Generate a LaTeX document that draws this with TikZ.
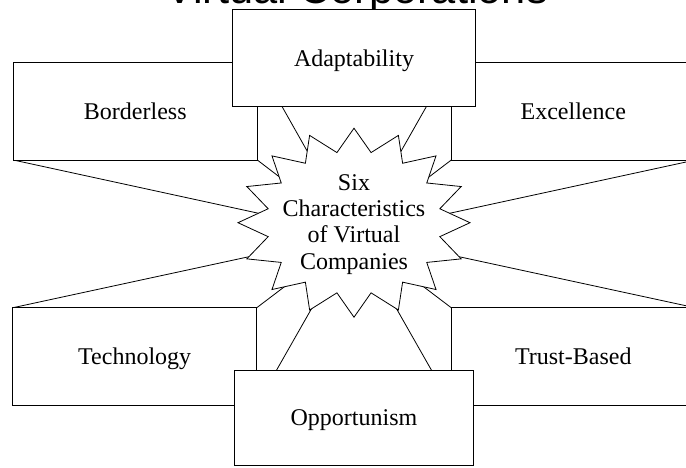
\documentclass[tikz,border=0pt]{standalone}
\usepackage{fontspec}
\setmainfont{Liberation Serif}
\newfontfamily\titlefont{Liberation Sans}
\usetikzlibrary{calc}
\pgfdeclarelayer{bg}
\pgfdeclarelayer{rays}
\pgfsetlayers{bg,rays,main}
\begin{document}
\begin{tikzpicture}[x=1pt,y=-1pt,
  box/.style={draw=black, line width=0.8pt, fill=white, inner sep=0pt, outer sep=0pt,
    minimum width=244pt, minimum height=97.3pt, text height=16pt, text depth=0pt,
    font=\fontsize{24}{26}\selectfont},
  ray/.style={draw=black, line width=0.8pt},
  starline/.style={draw=black, line width=0.8pt, fill=white, line join=miter}]
\clip (0,0) rectangle (686,467);
\begin{pgfonlayer}{bg}
  \fill[white] (0,0) rectangle (686,467);
\end{pgfonlayer}
% title (only its lower part is inside the picture)
\node[anchor=base, inner sep=0pt, font=\titlefont\fontsize{43.4}{48}\selectfont] (title) at (356.5,3) {Virtual Corporations};
% starburst
\coordinate (sc) at (354,222.7);
\coordinate (P) at (354,234);
\draw[starline] ($(sc)+(90:116 and 94.5)$)
  \foreach \k in {0,...,15}{ -- ($(sc)+(\k*22.5+101.25:87.5 and 71.5)$) -- ($(sc)+(\k*22.5+112.5:116 and 94.5)$)} -- cycle;
\node[align=center, inner sep=0pt, font=\fontsize{24}{26.1}\selectfont] (core) at (354,224.5) {Six\\Characteristics\\of Virtual\\Companies};
% boxes
\node[box] (bord) at (135.3,111.35) {Borderless};
\node[box] (exc) at (573.3,111.35) {Excellence};
\node[box] (tech) at (134.7,356.4) {Technology};
\node[box] (trust) at (573.3,356.4) {Trust-Based};
\node[box, minimum width=243.4pt, minimum height=97.4pt] (adapt) at (354,58) {Adaptability};
\node[box, minimum width=238.6pt, minimum height=95.7pt] (opp) at (354,417.8) {Opportunism};
% rays toward the centre, hidden behind star and boxes
\begin{pgfonlayer}{rays}
  \draw[ray] (bord.south west) -- (P);
  \draw[ray] (bord.south east) -- (P);
  \draw[ray] (bord.north east) -- (P);
  \draw[ray] (exc.south east) -- (P);
  \draw[ray] (exc.south west) -- (P);
  \draw[ray] (exc.north west) -- (P);
  \draw[ray] (tech.north west) -- (P);
  \draw[ray] (tech.north east) -- (P);
  \draw[ray] (tech.south east) -- (P);
  \draw[ray] (trust.north east) -- (P);
  \draw[ray] (trust.north west) -- (P);
  \draw[ray] (trust.south west) -- (P);
\end{pgfonlayer}
\end{tikzpicture}
\end{document}
